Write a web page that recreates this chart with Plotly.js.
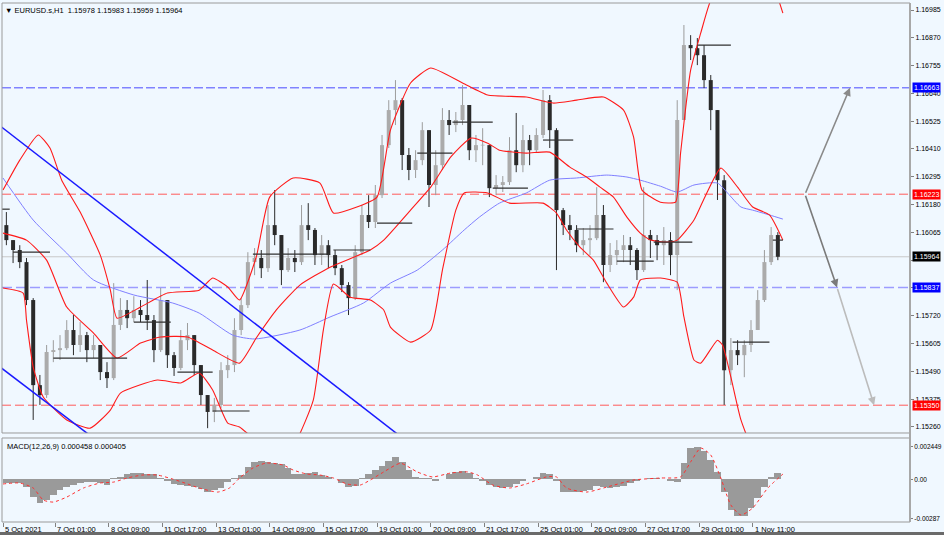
<!DOCTYPE html>
<html><head><meta charset="utf-8">
<script src="https://cdn.plot.ly/plotly-3.0.1.min.js"></script>
<style>html,body{margin:0;padding:0;background:#f0f8ff;}#chart{width:944px;height:535px;}</style>
</head><body><div id="chart"></div>
<script>
// ---------- DATA ----------
const symbolTitle = '▼ EURUSD.s,H1  1.15978 1.15983 1.15959 1.15964';
const macdTitle = 'MACD(12,26,9) 0.000458 0.000405';
const barsPerCandle = 4;      // each drawn candle groups 4 H1 bars
const firstOpen = 1.16095;

const close = [1.16033,1.15992,1.15942,1.15785,1.15433,1.15392,1.15570,1.15578,1.15586,1.15661,
1.15599,1.15640,1.15578,1.15599,1.15487,1.15462,1.15682,1.15744,1.15710,1.15744,
1.15723,1.15702,1.15578,1.15785,1.15557,1.15504,1.15619,1.15640,1.15516,1.15392,
1.15322,1.15351,1.15495,1.15516,1.15661,1.15764,1.15942,1.15959,1.15917,1.16095,
1.16054,1.15909,1.15959,1.15942,1.16095,1.16075,1.15971,1.16012,1.15971,1.15917,
1.15847,1.15793,1.15983,1.16137,1.16108,1.16219,1.16426,1.16571,1.16612,1.16385,
1.16323,1.16364,1.16488,1.16261,1.16343,1.16530,1.16509,1.16530,1.16592,1.16405,
1.16426,1.16426,1.16248,1.16261,1.16273,1.16405,1.16343,1.16447,1.16405,1.16468,
1.16612,1.16488,1.16157,1.16095,1.16075,1.16012,1.16033,1.16041,1.16137,1.15930,
1.15971,1.15992,1.16012,1.15992,1.15909,1.16054,1.16033,1.16012,1.16033,1.15971,
1.16530,1.16840,1.16827,1.16798,1.16695,1.16571,1.16281,1.15495,1.15578,1.15557,
1.15599,1.15661,1.15785,1.15942,1.16054,1.15964];

const high = [1.16149,1.16033,1.16012,1.15959,1.15793,1.15475,1.15599,1.15619,1.15640,1.15702,
1.15723,1.15694,1.15653,1.15640,1.15599,1.15528,1.15855,1.15793,1.15785,1.15801,
1.15785,1.15868,1.15723,1.15835,1.15785,1.15570,1.15661,1.15690,1.15640,1.15516,
1.15392,1.15380,1.15528,1.15557,1.15710,1.15793,1.15983,1.16000,1.15992,1.16178,
1.16240,1.16054,1.16000,1.15992,1.16178,1.16186,1.16083,1.16054,1.16033,1.15992,
1.15930,1.15859,1.16012,1.16178,1.16219,1.16261,1.16468,1.16612,1.16695,1.16621,
1.16414,1.16405,1.16521,1.16488,1.16405,1.16579,1.16571,1.16563,1.16674,1.16592,
1.16468,1.16496,1.16426,1.16302,1.16298,1.16459,1.16559,1.16509,1.16468,1.16496,
1.16654,1.16633,1.16496,1.16166,1.16137,1.16095,1.16083,1.16095,1.16252,1.16178,
1.16021,1.16033,1.16054,1.16046,1.16000,1.16252,1.16075,1.16054,1.16087,1.16066,
1.16612,1.16923,1.16881,1.16869,1.16840,1.16716,1.16571,1.16302,1.15628,1.15619,
1.15619,1.15702,1.15826,1.15992,1.16087,1.16066];

const low = [1.16012,1.15938,1.15917,1.15764,1.15289,1.15351,1.15380,1.15528,1.15537,1.15578,
1.15557,1.15570,1.15528,1.15545,1.15454,1.15421,1.15454,1.15661,1.15669,1.15694,
1.15694,1.15661,1.15528,1.15570,1.15504,1.15471,1.15495,1.15578,1.15475,1.15351,
1.15255,1.15280,1.15338,1.15462,1.15487,1.15640,1.15752,1.15888,1.15876,1.15901,
1.16012,1.15847,1.15901,1.15901,1.15930,1.16033,1.15930,1.15930,1.15917,1.15888,
1.15818,1.15723,1.15785,1.15971,1.16083,1.16083,1.16207,1.16414,1.16509,1.16323,
1.16281,1.16290,1.16343,1.16170,1.16219,1.16323,1.16468,1.16480,1.16509,1.16364,
1.16356,1.16343,1.16211,1.16219,1.16232,1.16261,1.16314,1.16314,1.16343,1.16397,
1.16455,1.16414,1.15909,1.16054,1.16033,1.15983,1.15971,1.15971,1.16033,1.15859,
1.15901,1.15930,1.15942,1.15930,1.15868,1.15901,1.15959,1.15950,1.15930,1.15888,
1.15826,1.16530,1.16778,1.16757,1.16662,1.16488,1.16199,1.15351,1.15433,1.15516,
1.15466,1.15570,1.15661,1.15777,1.15930,1.15950];

const macdHist = [-0.00026,-0.00026,-0.00026,-0.00056,-0.00130,-0.00174,-0.00152,-0.00115,-0.00078,-0.00056,
-0.00041,-0.00026,-0.00019,-0.00019,-0.00026,-0.00041,0.00011,0.00019,0.00041,0.00048,
0.00048,0.00041,0.00041,0.00011,-0.00011,-0.00033,-0.00041,-0.00048,-0.00056,-0.00070,
-0.00093,-0.00078,-0.00063,-0.00019,0.00011,0.00033,0.00093,0.00130,0.00137,0.00130,
0.00122,0.00115,0.00085,0.00041,0.00041,0.00048,0.00056,0.00033,0.00019,0.00004,
-0.00026,-0.00056,-0.00048,0.00011,0.00041,0.00070,0.00100,0.00137,0.00167,0.00130,
0.00070,0.00019,0.00011,0.00011,-0.00011,0.00004,0.00041,0.00056,0.00063,0.00048,
0.00011,-0.00011,-0.00041,-0.00056,-0.00063,-0.00056,-0.00033,-0.00011,0.00004,0.00019,
0.00048,0.00041,-0.00011,-0.00093,-0.00093,-0.00093,-0.00085,-0.00078,-0.00048,-0.00056,
-0.00063,-0.00056,-0.00048,-0.00026,-0.00011,0.00004,0.00011,0.00011,0.00004,-0.00011,
-0.00019,0.00122,0.00233,0.00240,0.00211,0.00144,0.00056,-0.00093,-0.00226,-0.00270,
-0.00270,-0.00211,-0.00137,-0.00056,0.00019,0.00046];

const signalBar = [0,10,18,24,30,38,48,58,66,74,83,92,101,110,117,128,135,141,149,157,
167,173,181,189,197,205,213,219,227,237,247,256,267,277,283,292,302,312,324,330,
336,348,360,376,392,404,410,416,422,428,434,440,447,456,465];
const signalVal = [-0.00033,-0.00026,-0.00063,-0.00152,-0.00167,-0.00130,-0.00063,-0.00026,-0.00019,0.00011,
0.00033,0.00033,0.00004,-0.00033,-0.00063,-0.00093,-0.00063,0.00011,0.00085,0.00122,
0.00107,0.00070,0.00041,0.00033,0.00011,-0.00033,-0.00041,-0.00004,0.00056,0.00120,
0.00056,0.00019,0.00048,0.00056,0.00033,-0.00041,-0.00063,-0.00033,0.00019,0.00019,
-0.00063,-0.00093,-0.00056,-0.00004,0.00011,0.00019,0.00130,0.00233,0.00181,0.00011,
-0.00189,-0.00263,-0.00211,-0.00063,0.00040];

const upperBar = [0,10,21,28,35,46,58,64,68,82,98,117,125,134,141,151,159,173,189,197,
211,223,231,243,255,274,289,312,328,342,358,370,376,381,392,401,404,410,416,422,442,457,465];
const upperVal = [1.16240,1.16364,1.16468,1.16414,1.16281,1.16149,1.15971,1.15826,1.15710,1.15756,
1.15814,1.15826,1.15876,1.15839,1.15785,1.15963,1.16211,1.16290,1.16269,1.16145,
1.16170,1.16211,1.16488,1.16683,1.16745,1.16683,1.16633,1.16625,1.16600,1.16612,
1.16625,1.16571,1.16459,1.16240,1.16190,1.16190,1.16393,1.16736,1.16889,1.17026,1.17254,1.17129,1.16972];

const middleBar = [0,14,26,38,54,68,82,94,110,125,141,151,163,177,195,219,227,243,255,267,
279,289,296,312,326,338,348,356,364,372,380,386,396,402,412,419,428,438,447,457,465];
const middleVal = [1.16062,1.16033,1.15950,1.15756,1.15648,1.15545,1.15607,1.15632,1.15632,1.15578,
1.15524,1.15628,1.15744,1.15847,1.15921,1.15992,1.16033,1.16157,1.16252,1.16377,
1.16455,1.16434,1.16405,1.16393,1.16397,1.16335,1.16294,1.16252,1.16211,1.16128,
1.16062,1.16033,1.16025,1.16033,1.16116,1.16219,1.16331,1.16252,1.16170,1.16137,1.16033];

const lowerBar = [0,12,14,18,24,38,52,64,70,92,106,117,125,134,141,154,165,175,185,191,
197,207,219,227,231,243,255,262,270,275,289,302,322,330,336,344,352,360,370,376,
380,392,402,406,412,416,426,429,434,440,452,465];
const lowerVal = [1.15835,1.15814,1.15702,1.15508,1.15384,1.15289,1.15255,1.15330,1.15400,1.15454,
1.15442,1.15483,1.15413,1.15276,1.15260,1.15185,1.15144,1.15206,1.15371,1.15661,
1.15851,1.15797,1.15785,1.15744,1.15673,1.15611,1.15661,1.15909,1.16157,1.16228,
1.16228,1.16186,1.16186,1.16145,1.16075,1.16004,1.15950,1.15855,1.15756,1.15797,
1.15868,1.15876,1.15859,1.15715,1.15537,1.15524,1.15619,1.15599,1.15466,1.15289,1.15082,1.14958];

const maBar = [0,18,38,54,78,101,117,137,150,177,195,215,231,247,262,275,284,296,312,326,
342,360,372,380,392,402,412,426,432,440,447,457,465];
const maVal = [1.16290,1.16116,1.15979,1.15868,1.15806,1.15773,1.15731,1.15640,1.15624,1.15661,
1.15715,1.15773,1.15855,1.15909,1.15992,1.16075,1.16128,1.16186,1.16228,1.16281,
1.16290,1.16302,1.16294,1.16281,1.16256,1.16232,1.16261,1.16269,1.16228,1.16170,
1.16157,1.16137,1.16120];

const trendBarA = [-1.8, 296.4], trendPriceA = [1.16506, 1.14901];
const trendBarB = [-1.8, 117.5], trendPriceB = [1.15508, 1.14879];

const levelPrices = [1.16663, 1.16223, 1.15964, 1.15837, 1.15350];
const levelLabels = ['1.16663','1.16223','1.15964','1.15837','1.15350'];

const segStart = [-2,6,30,78,104,125,149,197,223,247,268,292,322,342,366,388,414,435,459];
const segEnd   = [4,28,74,100,125,147,195,219,244,268,292,313,340,364,388,411,434,457,465];
const segPrice = [1.16161,1.15983,1.15545,1.15694,1.15487,1.15326,1.15975,1.15992,1.16103,1.16393,
1.16521,1.16248,1.16447,1.16079,1.15946,1.16025,1.16840,1.15611,1.16033];

const arrowTailBar = [478.2, 478.2, 497.3], arrowTailPrice = [1.16223, 1.16223, 1.15837];
const arrowHeadBar = [505.0, 497.3, 519.4], arrowHeadPrice = [1.16663, 1.15837, 1.15350];

const dateBars = [0,31,63,95,127,159,191,223,255,287,319,351,383,415,447];
const dateLabels = ['5 Oct 2021','7 Oct 01:00','8 Oct 09:00','11 Oct 17:00','13 Oct 01:00','14 Oct 09:00',
'15 Oct 17:00','19 Oct 01:00','20 Oct 09:00','21 Oct 17:00','25 Oct 01:00','26 Oct 09:00',
'27 Oct 17:00','29 Oct 01:00','1 Nov 11:00'];

// price scale ticks (labels hidden by the level boxes in the reference are left blank)
const priceTicks = [1.15260,1.15375,1.15490,1.15605,1.15720,1.15835,1.15950,1.16065,1.16180,1.16295,
1.16410,1.16525,1.16640,1.16755,1.16870,1.16985];
const priceTickLabels = ['1.15260','1.15375','1.15490','1.15605','1.15720','','','1.16065','1.16180','1.16295',
'1.16410','1.16525','1.16640','1.16755','1.16870','1.16985'];
const macdTicks = [0.002449, 0, -0.00287];
const macdTickLabels = ['0.002449','0.00','-0.00287'];

// ---------- STYLE ----------
const BG = '#f0f8ff';
const levelStyle = [
  {color:'#4a4aff', dash:'9px,3px', width:1, box:'#0000ff'},
  {color:'#ff5a5a', dash:'9px,4px', width:1, box:'#ff0000'},
  {color:'#c8c8c8', dash:'solid',   width:1, box:'#000000'},
  {color:'#9c9cff', dash:'10px,4px', width:1.3, box:'#0000ff'},
  {color:'#ff5a5a', dash:'9px,4px', width:1, box:'#ff0000'}
];
const arrowColors = ['#8a8a8a','#7a7a7a','#bcbcbc'];
const FONT = 'Liberation Sans, Arial, sans-serif';
const TICK_FONT = {family:FONT,size:7,color:'#000'};

// ---------- BUILD ----------
const n = close.length;
const open = close.map((c,k)=> k===0 ? firstOpen : close[k-1]);
const bx = close.map((c,k)=> k*barsPerCandle + barsPerCandle/2);

const wUp={x:[],y:[]}, wDn={x:[],y:[]}, bUp={x:[],y:[]}, bDn={x:[],y:[]};
for(let k=0;k<n;k++){
  const o=open[k], c=close[k];
  const h=Math.max(high[k],o,c), l=Math.min(low[k],o,c);
  const up = c>=o;
  const w = up?wUp:wDn, b = up?bUp:bDn;
  w.x.push(bx[k],bx[k],null); w.y.push(l,h,null);
  let b0=Math.min(o,c), b1=Math.max(o,c);
  if(b1-b0<0.00003){ b0-=0.000015; b1+=0.000015; }
  b.x.push(bx[k],bx[k],null); b.y.push(b0,b1,null);
}
const segX=[], segY=[];
for(let i=0;i<segStart.length;i++){ segX.push(segStart[i],segEnd[i],null); segY.push(segPrice[i],segPrice[i],null); }

const traces = [
  {x:wUp.x,y:wUp.y,mode:'lines',line:{color:'#9c9c9c',width:1},hoverinfo:'skip'},
  {x:wDn.x,y:wDn.y,mode:'lines',line:{color:'#2a2a2a',width:1},hoverinfo:'skip'},
  {x:bUp.x,y:bUp.y,mode:'lines',line:{color:'#ababab',width:4},hoverinfo:'skip'},
  {x:bDn.x,y:bDn.y,mode:'lines',line:{color:'#2a2a2a',width:4},hoverinfo:'skip'},
  {x:maBar,y:maVal,mode:'lines',line:{color:'#8080ff',width:1,shape:'spline',smoothing:0.6},hoverinfo:'skip'},
  {x:upperBar,y:upperVal,mode:'lines',line:{color:'#ff1a1a',width:1.1,shape:'spline',smoothing:0.5},hoverinfo:'skip'},
  {x:middleBar,y:middleVal,mode:'lines',line:{color:'#ff1a1a',width:1.1,shape:'spline',smoothing:0.5},hoverinfo:'skip'},
  {x:lowerBar,y:lowerVal,mode:'lines',line:{color:'#ff1a1a',width:1.1,shape:'spline',smoothing:0.5},hoverinfo:'skip'},
  {x:trendBarA,y:trendPriceA,mode:'lines',line:{color:'#1a1aff',width:1.5},hoverinfo:'skip'},
  {x:trendBarB,y:trendPriceB,mode:'lines',line:{color:'#1a1aff',width:1.5},hoverinfo:'skip'},
  {x:segX,y:segY,mode:'lines',line:{color:'#303030',width:1.2},hoverinfo:'skip'},
  {x:bx,y:macdHist,type:'bar',xaxis:'x2',yaxis:'y2',width:barsPerCandle,marker:{color:'#9a9a9a',line:{width:0}},hoverinfo:'skip'},
  {x:signalBar,y:signalVal,mode:'lines',xaxis:'x2',yaxis:'y2',line:{color:'#ff3030',width:1,dash:'dot',shape:'spline',smoothing:0.6},hoverinfo:'skip'}
];

const X_RANGE = [-0.6, 540.8];
const shapes = [];
levelPrices.forEach((p,i)=>{
  shapes.push({type:'line',xref:'paper',yref:'y',x0:0,x1:1,y0:p,y1:p,layer:'below',
    line:{color:levelStyle[i].color,width:levelStyle[i].width,dash:levelStyle[i].dash}});
});
const MAIN_DOM=[0.1715,1], MACD_DOM=[0,0.16185];
shapes.push({type:'rect',xref:'paper',yref:'paper',x0:0,x1:1,y0:MAIN_DOM[0],y1:MAIN_DOM[1],line:{color:'#9a9a9a',width:1}});
shapes.push({type:'rect',xref:'paper',yref:'paper',x0:0,x1:1,y0:MACD_DOM[0],y1:MACD_DOM[1],line:{color:'#9a9a9a',width:1}});
shapes.push({type:'line',xref:'paper',yref:'paper',x0:1,x1:1,y0:0,y1:1,line:{color:'#a8a8a8',width:2}});
shapes.push({type:'rect',xref:'paper',yref:'paper',x0:-0.003,x1:1.04,y0:-0.0195,y1:-0.026,fillcolor:'#6a6a6a',line:{width:0}});

const annotations = [];
annotations.push({xref:'paper',yref:'paper',x:0,y:1,xanchor:'left',yanchor:'top',xshift:1,yshift:-1,
  text:symbolTitle,showarrow:false,font:{family:FONT,size:7.5,color:'#000'}});
annotations.push({xref:'paper',yref:'paper',x:0,y:MACD_DOM[1],xanchor:'left',yanchor:'top',xshift:3,yshift:-2,
  text:macdTitle,showarrow:false,font:{family:FONT,size:7.5,color:'#000'}});
levelPrices.forEach((p,i)=>{
  annotations.push({xref:'paper',yref:'y',x:1,y:p,xanchor:'left',yanchor:'middle',xshift:2,
    text:levelLabels[i],showarrow:false,bgcolor:levelStyle[i].box,borderpad:1,
    font:{family:FONT,size:7,color:'#ffffff'}});
});
dateBars.forEach((b,i)=>{
  annotations.push({xref:'x2',yref:'paper',x:b,y:0,xanchor:'left',yanchor:'top',xshift:0,yshift:-1,
    text:dateLabels[i],showarrow:false,font:{family:FONT,size:7.5,color:'#000'}});
});
arrowTailBar.forEach((t,i)=>{
  annotations.push({xref:'x',yref:'y',axref:'x',ayref:'y',x:arrowHeadBar[i],y:arrowHeadPrice[i],
    ax:t,ay:arrowTailPrice[i],text:'',showarrow:true,arrowhead:2,arrowsize:1,arrowwidth:1.6,
    arrowcolor:arrowColors[i],standoff:0,startstandoff:0});
});

const layout = {
  width:944, height:535,
  paper_bgcolor:BG, plot_bgcolor:BG,
  margin:{l:2,r:34,t:3,b:13},
  showlegend:false, bargap:0,
  font:{family:FONT,size:7.5,color:'#000'},
  xaxis:{domain:[0,1],range:X_RANGE,anchor:'y',showgrid:false,zeroline:false,showticklabels:false,ticks:'',showline:false,fixedrange:true},
  yaxis:{domain:MAIN_DOM,range:[1.15235,1.17014],side:'right',anchor:'x',tickmode:'array',tickvals:priceTicks,ticktext:priceTickLabels,
    ticks:'outside',ticklen:3,tickcolor:'#808080',showgrid:false,zeroline:false,showline:false,tickfont:TICK_FONT},
  xaxis2:{domain:[0,1],range:X_RANGE,anchor:'y2',showgrid:false,zeroline:false,showticklabels:false,tickmode:'array',tickvals:dateBars,
    ticks:'outside',ticklen:4,tickcolor:'#808080',showline:false},
  yaxis2:{domain:MACD_DOM,range:[-0.003145,0.003071],side:'right',anchor:'x2',tickmode:'array',tickvals:macdTicks,ticktext:macdTickLabels,
    ticks:'outside',ticklen:2,tickcolor:'#808080',showgrid:false,zeroline:false,showline:false,tickfont:{family:FONT,size:6.5,color:'#000'}},
  shapes:shapes, annotations:annotations
};

Plotly.newPlot('chart', traces, layout, {staticPlot:true, displayModeBar:false});
</script>
</body></html>
